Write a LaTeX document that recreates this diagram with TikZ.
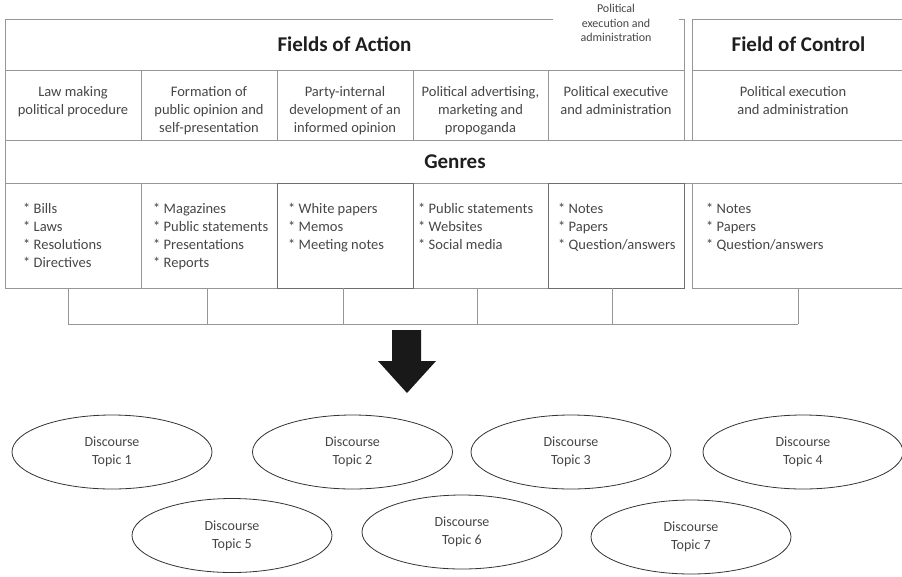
\documentclass[tikz,border=0pt]{standalone}
\usepackage{fontspec}
\setmainfont{Carlito}
\usetikzlibrary{positioning, shapes.geometric}
\definecolor{gridgray}{RGB}{150,150,150}
\definecolor{darkgrid}{RGB}{110,110,110}
\definecolor{textgray}{RGB}{70,70,70}
\definecolor{titlegray}{RGB}{30,30,30}

\begin{document}
\begin{tikzpicture}[x=1pt, y=-1pt,
        cell/.style={draw=gridgray, line width=1pt, inner sep=0pt, outer sep=0pt},
        darkcell/.style={cell, draw=darkgrid},
        titletext/.style={font=\fontsize{21pt}{25pt}\selectfont\bfseries, text=titlegray},
        fieldtext/.style={font=\fontsize{14.5pt}{18pt}\selectfont, text=textgray, align=center, inner sep=0pt},
        genretext/.style={font=\fontsize{14.5pt}{18pt}\selectfont, text=textgray, align=left, inner sep=0pt},
        notetext/.style={font=\fontsize{12pt}{14.5pt}\selectfont, text=textgray, align=center, fill=white, minimum width=126pt, inner ysep=2pt},
        topic/.style={ellipse, draw=black!80, line width=0.8pt, minimum width=200pt, minimum height=74pt, inner sep=0pt, align=center, font=\fontsize{14pt}{18pt}\selectfont, text=textgray},
        bracket/.style={draw=gridgray, line width=1pt},
    ]
        \useasboundingbox (0,0) rectangle (902,576);

        % Header row
        \node[cell, titletext, minimum width=679pt, minimum height=51pt] (action) at (344.5,44.5) {Fields of Action};
        \node[cell, titletext, minimum width=213pt, minimum height=51pt] (control) at (798.5,44.5) {Field of Control};
        \node[notetext, anchor=north] (note) at (616,2) {Political\\execution and\\administration};

        % Fields
        \node[cell, minimum width=136pt, minimum height=70pt] (f1) at (73,105) {};
        \node[cell, minimum width=136pt, minimum height=70pt] (f2) at (209,105) {};
        \node[cell, minimum width=136pt, minimum height=70pt] (f3) at (345,105) {};
        \node[cell, minimum width=135pt, minimum height=70pt] (f4) at (480.5,105) {};
        \node[cell, minimum width=136pt, minimum height=70pt] (f5) at (616,105) {};
        \node[cell, minimum width=213pt, minimum height=70pt] (f6) at (798.5,105) {};
        \node[fieldtext, below=16pt of f1.north] (f1text) {Law making\\political procedure};
        \node[fieldtext, below=16pt of f2.north] (f2text) {Formation of\\public opinion and\\self-presentation};
        \node[fieldtext, below=16pt of f3.north] (f3text) {Party-internal\\development of an\\informed opinion};
        \node[fieldtext, below=16pt of f4.north] (f4text) {Political advertising,\\marketing and\\propoganda};
        \node[fieldtext, below=16pt of f5.north] (f5text) {Political executive\\and administration};
        \node[fieldtext, below=16pt of f6.north, xshift=-5.5pt] (f6text) {Political execution\\and administration};

        % Genres
        \node[cell, titletext, minimum width=900pt, minimum height=43pt] (genres) at (455,161.5) {Genres};
        \node[cell, minimum width=136pt, minimum height=105pt] (g1) at (73,235.5) {};
        \node[cell, minimum width=136pt, minimum height=105pt] (g2) at (209,235.5) {};
        \node[cell, minimum width=135pt, minimum height=105pt] (g4) at (480.5,235.5) {};
        \node[cell, minimum width=213pt, minimum height=105pt] (g6) at (798.5,235.5) {};
        \node[darkcell, minimum width=136pt, minimum height=105pt] (g3) at (345,235.5) {};
        \node[darkcell, minimum width=136pt, minimum height=105pt] (g5) at (616,235.5) {};
        \node[genretext, below right=20pt and 18pt of g1.north west] (g1text) {* Bills\\* Laws\\* Resolutions\\* Directives};
        \node[genretext, below right=20pt and 12pt of g2.north west] (g2text) {* Magazines\\* Public statements\\* Presentations\\* Reports};
        \node[genretext, below right=20pt and 11pt of g3.north west] (g3text) {* White papers\\* Memos\\* Meeting notes};
        \node[genretext, below right=20pt and 5pt of g4.north west] (g4text) {* Public statements\\* Websites\\* Social media};
        \node[genretext, below right=20pt and 10pt of g5.north west] (g5text) {* Notes\\* Papers\\* Question/answers};
        \node[genretext, below right=20pt and 14pt of g6.north west] (g6text) {* Notes\\* Papers\\* Question/answers};

        % Bracket below the genres
        \foreach \x in {68,207,343,477,612,798} {
            \coordinate (bot\x) at (\x,324);
            \draw[bracket] (bot\x) -- (bot\x |- g1.south);
        }
        \draw[bracket] (bot68) -- (bot798);

        % Block arrow
        \coordinate (arrowtip) at (407,393);
        \fill[black!90] (392,330) -- (421,330) -- (421,361) -- (436,361) -- (arrowtip) -- (378,361) -- (392,361) -- cycle;

        % Discourse topics
        \node[topic] (t1) at (112,452) {Discourse\\Topic 1};
        \node[topic] (t2) at (352.5,452) {Discourse\\Topic 2};
        \node[topic] (t3) at (571,452) {Discourse\\Topic 3};
        \node[topic] (t4) at (803,452) {Discourse\\Topic 4};
        \node[topic] (t5) at (232,535.5) {Discourse\\Topic 5};
        \node[topic] (t6) at (462,532) {Discourse\\Topic 6};
        \node[topic] (t7) at (691,537) {Discourse\\Topic 7};
    \end{tikzpicture}
\end{document}
